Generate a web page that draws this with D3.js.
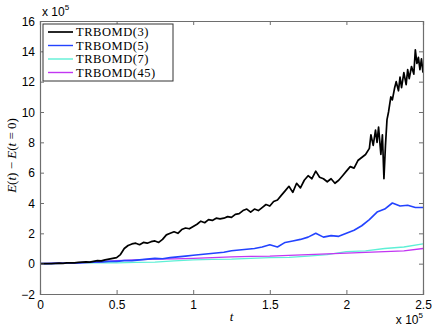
<!DOCTYPE html>
<html>
<head>
<meta charset="utf-8">
<script src="https://cdn.jsdelivr.net/npm/d3@7"></script>
<style>
  body { margin: 0; background: #fff; }
  svg text { font-family: "Liberation Sans", Arial, sans-serif; }
</style>
</head>
<body>
<div id="chart"></div>
<script>
// series names
const seriesNames = ["TRBOMD(3)", "TRBOMD(5)", "TRBOMD(7)", "TRBOMD(45)"];
const seriesColors = ["#000000", "#2343ff", "#5ef0d6", "#c236f2"];

// t values are in units of 1e5, energies in units of 1e5
const tBlack = [0,0.025,0.05,0.075,0.1,0.125,0.15,0.175,0.2,0.225,0.25,0.275,0.3,0.325,0.35,0.375,0.4,0.425,0.45,0.475,
  0.5,0.525,0.55,0.575,0.6,0.625,0.65,0.675,0.7,0.725,0.75,0.775,0.8,0.825,0.85,0.875,0.9,0.925,0.95,0.975,
  1.0,1.025,1.05,1.075,1.1,1.125,1.15,1.175,1.2,1.225,1.25,1.275,1.3,1.325,1.35,1.375,1.4,1.425,1.45,1.475,
  1.5,1.525,1.55,1.575,1.6,1.625,1.65,1.675,1.7,1.725,1.75,1.775,1.8,1.825,1.85,1.875,1.9,1.925,1.95,1.975,
  2.0,2.025,2.05,2.075,2.1,2.125,2.15,2.16,2.175,2.19,2.2,2.21,2.225,2.235,2.245,2.255,2.265,2.275,2.29,2.3,
  2.315,2.325,2.34,2.35,2.36,2.375,2.39,2.4,2.41,2.425,2.44,2.45,2.46,2.47,2.48,2.49,2.5];
const eBlack = [0,0.0,0.01,0.0,0.02,0.03,0.02,0.05,0.06,0.05,0.08,0.1,0.12,0.1,0.15,0.2,0.18,0.25,0.3,0.35,
  0.4,0.6,1.0,1.2,1.3,1.35,1.25,1.4,1.35,1.45,1.5,1.4,1.6,1.9,2.0,2.1,2.0,2.25,2.35,2.3,
  2.45,2.6,2.8,2.7,2.9,2.85,3.0,2.95,3.0,3.1,3.05,3.25,3.3,3.5,3.6,3.4,3.6,3.5,3.7,3.9,
  3.8,4.1,4.2,4.5,4.8,5.1,4.7,5.3,5.0,5.5,5.8,5.6,6.1,5.7,5.6,5.4,5.6,5.3,5.5,5.8,
  6.1,6.4,6.3,6.8,7.0,7.2,7.6,8.5,7.8,8.8,8.0,9.0,7.2,8.5,5.6,7.8,9.5,10.0,11.0,10.8,
  11.6,12.0,11.4,12.3,11.6,12.6,11.8,12.8,12.2,13.0,12.5,14.1,13.2,13.6,12.8,13.5,12.6];

const tBlue = [0,0.05,0.1,0.15,0.2,0.25,0.3,0.35,0.4,0.45,0.5,0.55,0.6,0.65,0.7,0.75,0.8,0.85,0.9,0.95,
  1.0,1.05,1.1,1.15,1.2,1.25,1.3,1.35,1.4,1.45,1.5,1.55,1.6,1.65,1.7,1.75,1.8,1.85,1.9,1.95,
  2.0,2.05,2.1,2.15,2.2,2.25,2.3,2.35,2.4,2.45,2.5];
const eBlue = [0,0.0,0.02,0.03,0.05,0.05,0.08,0.1,0.12,0.15,0.15,0.2,0.2,0.25,0.3,0.35,0.32,0.4,0.45,0.5,
  0.55,0.6,0.65,0.7,0.75,0.85,0.9,0.95,1.0,1.1,1.25,1.1,1.4,1.5,1.6,1.75,2.0,1.75,1.85,1.8,
  2.0,2.2,2.5,2.9,3.4,3.6,4.0,3.8,3.85,3.7,3.7];

const tCyan = [0,0.125,0.25,0.375,0.5,0.625,0.75,0.875,1.0,1.125,1.25,1.375,1.5,1.625,1.75,1.875,2.0,2.125,2.25,2.375,2.5];
const eCyan = [0,0.02,0.05,0.06,0.05,0.08,0.1,0.18,0.25,0.28,0.3,0.35,0.4,0.42,0.5,0.6,0.8,0.85,1.0,1.1,1.3];

const tPurple = [0,0.125,0.25,0.375,0.5,0.625,0.75,0.875,1.0,1.125,1.25,1.375,1.5,1.625,1.75,1.875,2.0,2.125,2.25,2.375,2.5];
const ePurple = [0,0.03,0.05,0.1,0.2,0.25,0.3,0.32,0.35,0.4,0.45,0.48,0.5,0.55,0.6,0.65,0.7,0.75,0.8,0.85,1.0];

const xTicks = [0, 0.5, 1, 1.5, 2, 2.5];
const yTicks = [-2, 0, 2, 4, 6, 8, 10, 12, 14, 16];

const width = 436, height = 327;
const margin = {left: 40, right: 13, top: 21, bottom: 33};

const svg = d3.select("#chart").append("svg")
  .attr("width", width).attr("height", height);

const x = d3.scaleLinear().domain([0, 2.5]).range([margin.left, width - margin.right]);
const y = d3.scaleLinear().domain([-2, 16]).range([height - margin.bottom, margin.top]);

const series = [
  {t: tPurple, e: ePurple, c: seriesColors[3], w: 1.3},
  {t: tCyan, e: eCyan, c: seriesColors[2], w: 1.3},
  {t: tBlue, e: eBlue, c: seriesColors[1], w: 1.6},
  {t: tBlack, e: eBlack, c: seriesColors[0], w: 1.7}
];
// cyan under purple, black on top
const order = [1, 0, 2, 3];
const line = d3.line().x(d => x(d[0])).y(d => y(d[1]));
order.forEach(i => {
  const s = series[i];
  svg.append("path")
    .datum(s.t.map((t, k) => [t, s.e[k]]))
    .attr("fill", "none")
    .attr("stroke", s.c)
    .attr("stroke-width", s.w)
    .attr("stroke-linejoin", "round")
    .attr("d", line);
});

// axes, ticks inside on all four sides
const tickLen = 4;
const axB = svg.append("g").attr("transform", `translate(0,${y(-2)})`)
  .call(d3.axisBottom(x).tickValues(xTicks).tickSize(-tickLen).tickPadding(6).tickFormat(d => d));
const axT = svg.append("g").attr("transform", `translate(0,${y(16)})`)
  .call(d3.axisTop(x).tickValues(xTicks).tickSize(-tickLen).tickFormat(""));
const axL = svg.append("g").attr("transform", `translate(${x(0)},0)`)
  .call(d3.axisLeft(y).tickValues(yTicks).tickSize(-tickLen).tickPadding(5)
    .tickFormat(d => d < 0 ? "\u2212" + Math.abs(d) : d));
const axR = svg.append("g").attr("transform", `translate(${x(2.5)},0)`)
  .call(d3.axisRight(y).tickValues(yTicks).tickSize(-tickLen).tickFormat(""));

[axB, axT, axL, axR].forEach(g => {
  g.select(".domain").attr("stroke", "#6e6e6e").attr("stroke-width", 1.2);
  g.selectAll(".tick line").attr("stroke", "#6e6e6e");
  g.selectAll("text").attr("font-size", 12).attr("fill", "#000")
    .style("font-family", "'Liberation Sans', Arial, sans-serif");
});
axL.selectAll(".tick text").attr("dy", "0.35em");

// exponent labels
const expTop = svg.append("text").attr("x", x(0) + 2).attr("y", y(16) - 5)
  .attr("font-size", 12);
expTop.append("tspan").text("x 10");
expTop.append("tspan").attr("font-size", 8).attr("dy", -6).text("5");

const expBot = svg.append("text").attr("x", x(2.5)).attr("y", height - 3)
  .attr("font-size", 12).attr("text-anchor", "end");
expBot.append("tspan").text("x 10");
expBot.append("tspan").attr("font-size", 8).attr("dy", -6).text("5");

// axis labels
svg.append("text")
  .attr("x", x(1.25)).attr("y", y(-2) + 27)
  .attr("text-anchor", "middle")
  .style("font-family", "'Liberation Serif', 'DejaVu Serif', serif")
  .style("font-style", "italic")
  .attr("font-size", 13).text("t");

const ylab = svg.append("text")
  .attr("transform", `translate(16,${(y(-2) + y(16)) / 2 - 2}) rotate(-90)`)
  .attr("text-anchor", "middle")
  .style("font-family", "'Liberation Serif', 'DejaVu Serif', serif")
  .attr("font-size", 13);
ylab.append("tspan").style("font-style", "italic").text("E");
ylab.append("tspan").text("(");
ylab.append("tspan").style("font-style", "italic").text("t");
ylab.append("tspan").text(") \u2212 ");
ylab.append("tspan").style("font-style", "italic").text("E");
ylab.append("tspan").text("(");
ylab.append("tspan").style("font-style", "italic").text("t");
ylab.append("tspan").text(" = 0)");

// legend
const lg = svg.append("g").attr("transform", `translate(${x(0) + 3},${y(16) + 3})`);
lg.append("rect").attr("width", 130).attr("height", 57)
  .attr("fill", "#fff").attr("stroke", "#333").attr("stroke-width", 1);
seriesNames.forEach((name, i) => {
  const yy = 8 + i * 13.5;
  lg.append("line").attr("x1", 5).attr("x2", 30).attr("y1", yy).attr("y2", yy)
    .attr("stroke", seriesColors[i]).attr("stroke-width", i === 0 ? 1.7 : 1.4);
  lg.append("text").attr("x", 33).attr("y", yy).attr("dy", "0.35em")
    .style("font-family", "'Liberation Serif', 'DejaVu Serif', serif")
    .style("letter-spacing", "0.55px")
    .attr("font-size", 12.5).attr("fill", "#000").text(name);
});
</script>
</body>
</html>
